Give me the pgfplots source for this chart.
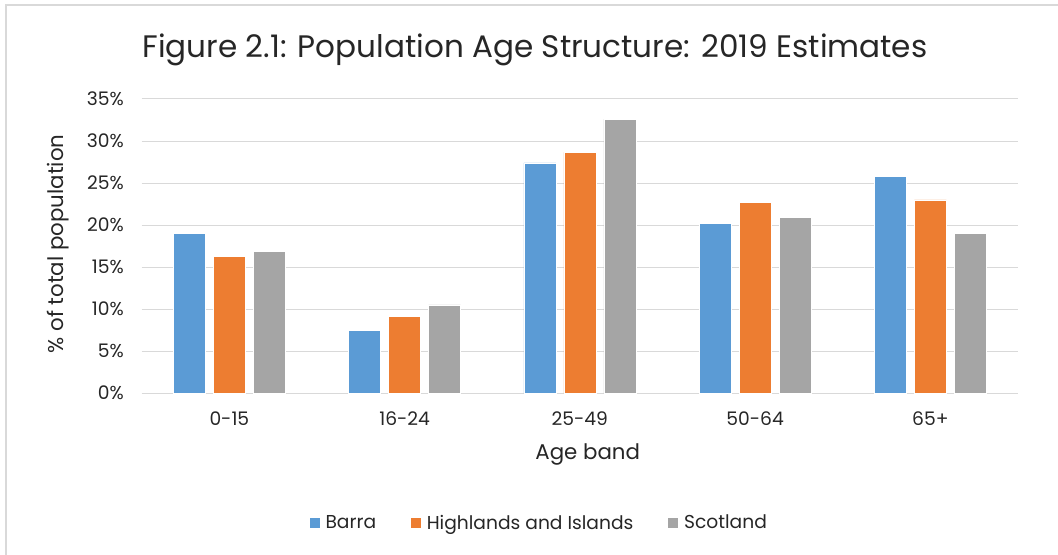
\documentclass[border=0pt]{standalone}
\usepackage{pgfplots}
\pgfplotsset{compat=1.18}
\usepackage{fontspec}
\setmainfont{Poppins}
\definecolor{barra}{HTML}{5B9BD5}
\definecolor{hi}{HTML}{ED7D31}
\definecolor{scot}{HTML}{A5A5A5}
\definecolor{gridc}{HTML}{D9D9D9}
\definecolor{framec}{HTML}{D9D9D9}
\definecolor{txt}{HTML}{262626}
\begin{document}
\begin{tikzpicture}
% frame and title, laid out in 0.75pt units
\begin{scope}[x=0.75pt,y=0.75pt]
\path[use as bounding box] (0,0) rectangle (1058,555);
\draw[line width=1.5pt, color=framec] (6,0) -- (6,550) -- (1058,550);
\node[font=\fontsize{23.3}{26}\selectfont, text=txt] at (535,505) {Figure 2.1: Population Age Structure: 2019 Estimates};
\end{scope}
\begin{axis}[
  at={(106.3pt,121.3pt)}, anchor=south west,
  scale only axis, width=657.2pt, height=220.7pt,
  ybar=6pt, bar width=24pt,
  xmin=-0.5, xmax=4.5, ymin=0, ymax=35,
  xtick={0,1,2,3,4},
  xticklabels={0-15,16-24,25-49,50-64,65+},
  ytick={0,5,10,15,20,25,30,35},
  yticklabels={0\%,5\%,10\%,15\%,20\%,25\%,30\%,35\%},
  ymajorgrids, grid style={draw=gridc, line width=0.75pt},
  axis line style={draw=none},
  major tick length=0pt,
  tick label style={font=\fontsize{14}{16}\selectfont, text=txt},
  xticklabel style={yshift=-10pt},
  yticklabel style={xshift=-10pt},
  xlabel={Age band}, ylabel={\% of total population},
  label style={font=\fontsize{16}{18}\selectfont, text=txt},
  xlabel style={at={(axis description cs:0.509,-0.2097)}, anchor=center},
  ylabel style={at={(axis description cs:-0.0950,0.507)}, anchor=center, rotate=0},
  legend columns=3,
  legend style={at={(0.4540,-0.4407)}, anchor=center, draw=none, fill=none,
    font=\fontsize{14}{16}\selectfont, text=txt,
    /tikz/every odd column/.append style={column sep=2.5pt},
    /tikz/every even column/.append style={column sep=24pt}},
  legend image code/.code={\fill[#1,draw=none] (0pt,-3.75pt) rectangle (7.5pt,3.75pt);},
  every axis plot/.append style={draw=white, line width=0.5pt},
]
\addplot[fill=barra] coordinates {(0,19.0) (1,7.5) (2,27.4) (3,20.25) (4,25.75)};
\addplot[fill=hi] coordinates {(0,16.3) (1,9.15) (2,28.65) (3,22.7) (4,23.0)};
\addplot[fill=scot] coordinates {(0,16.9) (1,10.5) (2,32.6) (3,20.9) (4,19.0)};
\legend{Barra,Highlands and Islands,Scotland}
\end{axis}
\end{tikzpicture}
\end{document}
